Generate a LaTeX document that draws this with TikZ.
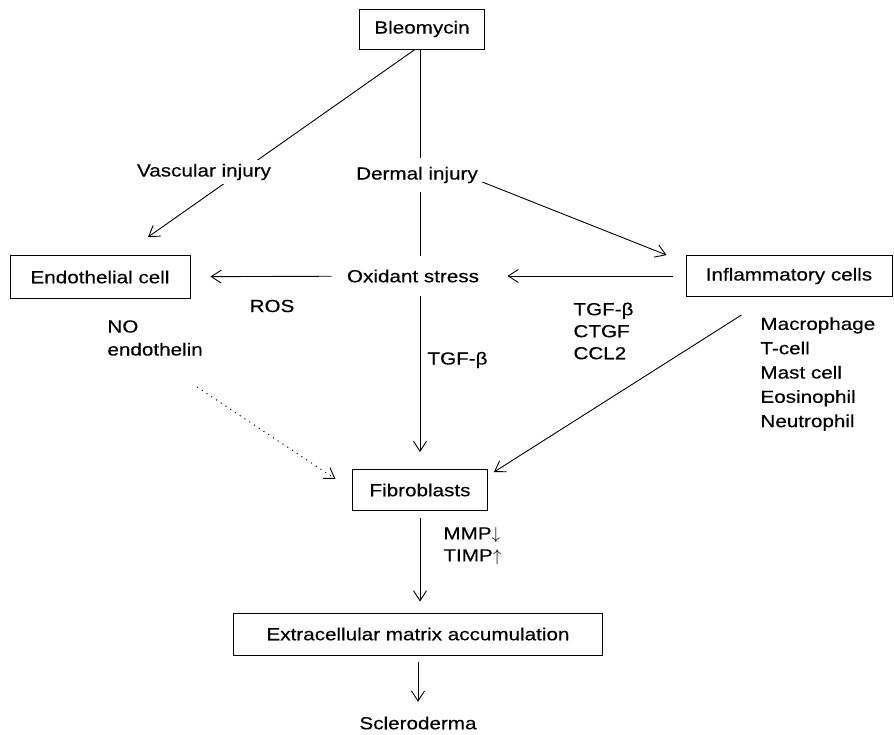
\documentclass[tikz,border=0pt]{standalone}
\usepackage{fontspec}
\setmainfont[FakeStretch=1.18, FakeBold=0.3]{Liberation Sans}
\usetikzlibrary{arrows.meta, positioning}

\tikzset{box/.style = {draw, minimum height=41pt, inner xsep=15pt},
  lbl/.style = {fill=white, inner sep=4pt},
  note/.style = {align=left, inner sep=0pt, anchor=west}}

\begin{document}
\begin{tikzpicture}[x=1pt, y=-1pt, line width=0.9pt,
  -{Straight Barb[length=10pt, width=13pt]},
  font=\fontsize{17.5pt}{23pt}\selectfont]
\useasboundingbox (0,0) rectangle (894,735);
\node[box, minimum height=40pt] (bleo) at (422,29) {Bleomycin};
\node[box, minimum width=180pt, minimum height=43pt] (endo) at (100,277) {Endothelial cell};
\node[box, minimum width=206pt] (infl) at (789,276) {Inflammatory cells};
\node[box, minimum width=135pt] (fibro) at (420,490) {Fibroblasts};
\node[box, minimum width=369pt, minimum height=42pt] (ecm) at (418,634) {Extracellular matrix accumulation};
\node (sclero) at (418,723) {Scleroderma};

% long lines first, the labels sit on top of them
\draw[shorten >=17pt] (bleo.south -| fibro) -- (fibro);
\draw ([xshift=-7pt]bleo.south) -- ([xshift=48pt, yshift=18pt]endo.north);
\node[lbl] (vasc) at (204,172) {Vascular injury};
\node[lbl, inner ysep=9pt] (derm) at (417,175) {Dermal injury};
\node[lbl, inner ysep=14pt, inner xsep=0pt] (oxid) at (413,276) {Oxidant stress};

\draw ([yshift=-7pt]derm.east) -- ([xshift=-19pt]infl.north west);
\draw[shorten <=13pt, shorten >=28pt] (infl) -- (oxid);
\draw[shorten <=15pt, shorten >=20pt] (oxid) -- (endo);

\node (ros) at (272,306) {ROS};
\node[note] (mediat) at (107,338) {NO\\endothelin};
\node[note, font=\fontsize{17.5pt}{22pt}\selectfont] (growth) at (573,331) {TGF-β\\CTGF\\CCL2};
\node[note, font=\fontsize{17.5pt}{24.3pt}\selectfont] (cells) at (760,374)
  {Macrophage\\T-cell\\Mast cell\\Eosinophil\\Neutrophil};
\node[note] (tgfb) at (427,360) {TGF-β};
\node[note, font=\fontsize{17.5pt}{22pt}\selectfont] (mmp) at (443,546) {MMP$\downarrow$\\TIMP$\uparrow$};

% endothelial side, dotted
\coordinate (dotstart) at (197,387);
\draw[dash pattern=on 1.2pt off 4.5pt, shorten >=20pt] (dotstart) -- (fibro.west);
\draw ([xshift=56pt, yshift=-18pt]infl.south west) -- ([xshift=6pt, yshift=-3pt]fibro.north east);

\draw[shorten <=7pt, shorten >=11pt] (fibro) -- (fibro |- ecm.north);
\draw[shorten <=7pt, shorten >=11pt] (ecm) -- (sclero);
\end{tikzpicture}
\end{document}
